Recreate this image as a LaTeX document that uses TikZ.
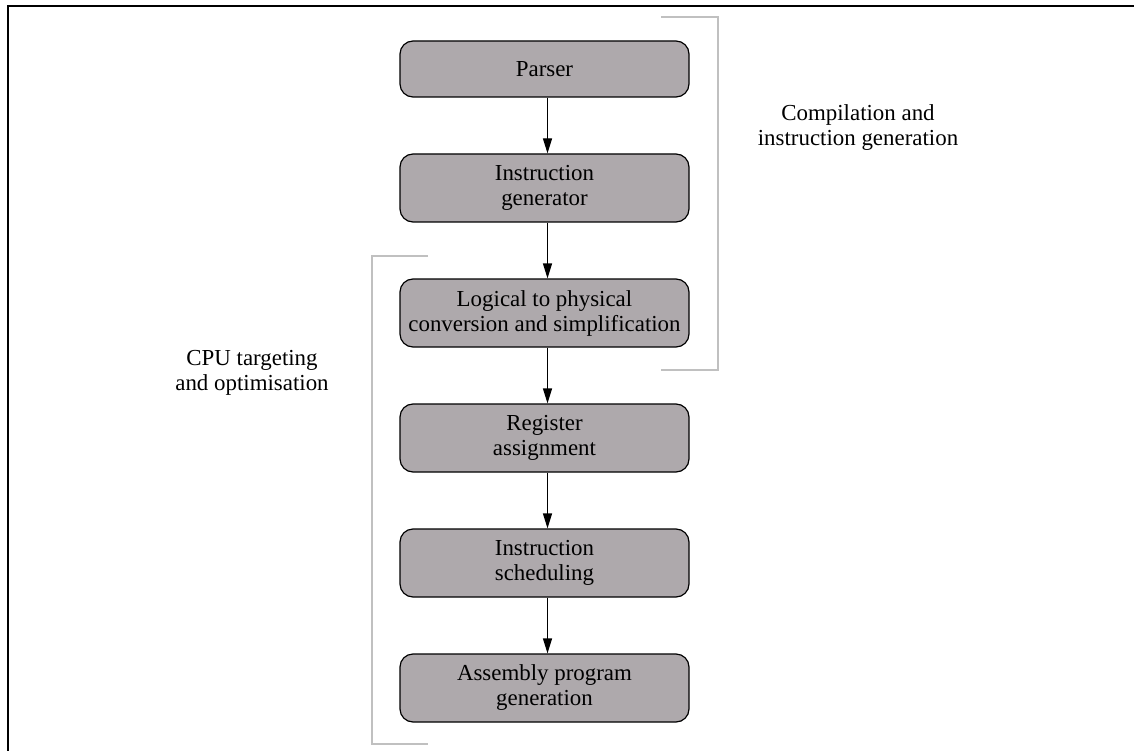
\documentclass[tikz,border=0pt]{standalone}
\usepackage{fontspec}
\setmainfont{Liberation Serif}
\usetikzlibrary{arrows.meta}
\definecolor{stagefill}{RGB}{174,169,172}
\definecolor{bracketgray}{RGB}{192,192,192}
\begin{document}
\begin{tikzpicture}[x=1pt,y=-1pt,
  textfont/.style={font=\fontsize{22.9}{25}\selectfont},
  stage/.style={draw=black, line width=1.2pt, fill=stagefill, rounded corners=13pt,
    minimum width=289pt, minimum height=68pt, inner sep=0pt, align=center, textfont},
  flow/.style={draw=black, line width=1.2pt, -{Triangle[length=15pt,width=9pt]}},
  span/.style={draw=bracketgray, line width=1.3pt},
  caption/.style={align=center, inner sep=0pt, textfont}]
\useasboundingbox (0,0) rectangle (1134,751);

% frame edges
\draw[line width=2pt] (7.5,751) -- (7.5,6) -- (1134,6);

% pipeline stages
\node[stage, minimum height=56pt] (parser) at (544.5,69) {Parser};
\node[stage] (igen)   at (544.5,188) {Instruction\\generator};
\node[stage] (l2p)    at (544.5,313) {Logical to physical\\conversion and simplification};
\node[stage] (reg)    at (544.5,438) {Register\\assignment};
\node[stage] (sched)  at (544.5,563) {Instruction\\scheduling};
\node[stage] (asm)    at (544.5,688) {Assembly program\\generation};

% flow between stages
\foreach \a/\b in {parser/igen, igen/l2p, l2p/reg, reg/sched, sched/asm}
  \draw[flow] ([xshift=3pt]\a.south) -- ([xshift=3pt]\b.north);

% phase brackets
\draw[span] (661,17) -- (718,17) -- (718,370) -- (661,370);
\draw[span] (428,256) -- (372,256) -- (372,744) -- (428,744);

% phase captions
\node[caption] (compile) at (858,128) {Compilation and\\instruction generation};
\node[caption] (target)  at (252,372.5) {CPU targeting\\and optimisation};
\end{tikzpicture}
\end{document}
